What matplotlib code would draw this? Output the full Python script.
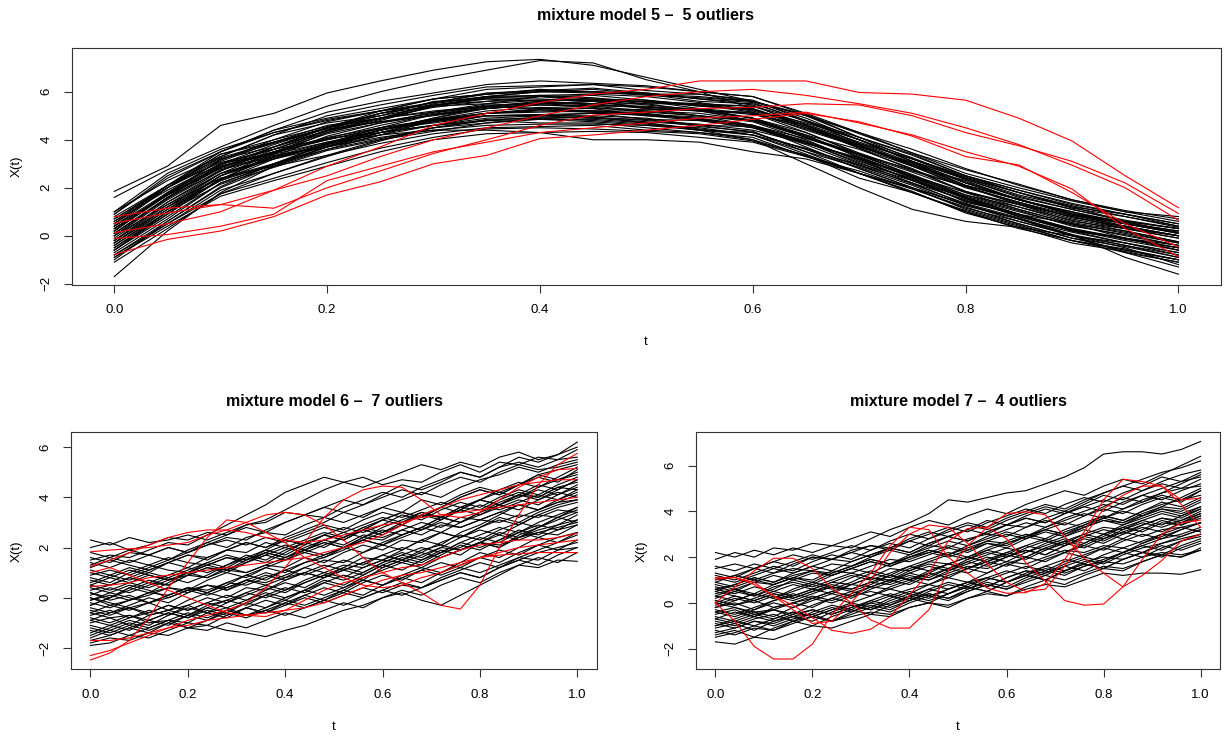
import matplotlib
matplotlib.use("Agg")
import matplotlib.pyplot as plt

plt.rcParams['font.family'] = ['Liberation Sans', 'DejaVu Sans']

W, H = 1230, 736

################################################
# Data
################################################

# mixture model 5 (grid 0.05)
t_top = [0.00, 0.05, 0.10, 0.15, 0.20, 0.25, 0.30, 0.35, 0.40, 0.45, 0.50,
         0.55, 0.60, 0.65, 0.70, 0.75, 0.80, 0.85, 0.90, 0.95, 1.00]

top_black = [
    [1.85, 2.9, 4.6, 5.1, 5.95, 6.45, 6.9, 7.25, 7.35, 7.1, 6.6, 6.1, 5.6, 4.9, 4.0, 3.1, 2.2, 1.5, 0.9, 0.4, 0.0],
    [1.6, 2.75, 3.7, 4.6, 5.4, 6.0, 6.5, 6.9, 7.3, 7.2, 6.5, 6.0, 5.3, 4.6, 3.8, 3.0, 2.1, 1.5, 0.9, 0.5, 0.1],
    [-1.7, 0.2, 1.8, 2.9, 3.6, 4.2, 4.6, 4.9, 5.0, 5.0, 4.9, 4.6, 4.3, 3.6, 2.8, 2.0, 1.1, 0.5, -0.1, -0.6, -1.0],
    [0.9, 2.4, 3.5, 4.3, 4.8, 5.2, 5.7, 5.9, 6.1, 6.0, 5.95, 5.7, 5.55, 4.75, 4.0, 3.1, 2.35, 1.6, 1.1, 0.6, 0.3],
    [-0.9, 0.5, 1.9, 2.6, 3.3, 3.95, 4.5, 4.7, 4.9, 4.8, 4.65, 4.4, 4.3, 3.6, 2.95, 2.3, 1.45, 0.9, 0.2, -0.1, -0.6],
    [0.3, 1.75, 2.85, 3.7, 4.4, 4.75, 5.1, 5.45, 5.5, 5.6, 5.35, 5.3, 4.9, 4.3, 3.45, 2.7, 2.05, 1.3, 0.8, 0.3, -0.1],
    [-0.4, 1.1, 2.5, 3.2, 3.85, 4.5, 5.05, 5.3, 5.5, 5.4, 5.4, 5.2, 5.15, 4.4, 3.7, 3.05, 2.1, 1.55, 0.85, 0.5, 0.15],
    [0.6, 1.9, 3.0, 3.45, 4.0, 4.45, 4.7, 5.0, 5.0, 4.9, 4.85, 4.55, 4.35, 3.5, 2.85, 2.1, 1.25, 0.7, 0.0, -0.3, -0.8],
    [-0.2, 1.4, 2.7, 3.7, 4.5, 5.0, 5.4, 5.8, 6.0, 5.95, 5.9, 5.8, 5.6, 5.0, 4.3, 3.45, 2.6, 2.0, 1.45, 1.0, 0.6],
    [0.0, 1.3, 2.4, 2.9, 3.35, 3.85, 4.25, 4.5, 4.55, 4.6, 4.4, 4.3, 4.0, 3.35, 2.4, 1.8, 1.0, 0.3, -0.2, -0.7, -1.1],
    [1.0, 2.6, 3.6, 4.3, 4.85, 5.2, 5.45, 5.75, 5.85, 5.75, 5.55, 5.45, 5.15, 4.5, 3.65, 2.75, 1.85, 1.2, 0.65, 0.2, -0.25],
    [-0.7, 0.7, 2.2, 2.95, 3.7, 4.3, 4.85, 5.1, 5.25, 5.2, 5.05, 4.95, 4.85, 4.15, 3.4, 2.75, 2.05, 1.4, 0.75, 0.4, 0.0],
    [0.4, 2.0, 3.3, 4.2, 5.0, 5.45, 5.85, 6.2, 6.25, 6.3, 6.05, 5.9, 5.65, 4.8, 3.85, 3.05, 2.25, 1.5, 1.0, 0.55, 0.2],
    [-1.1, 0.3, 1.75, 2.6, 3.35, 4.0, 4.5, 4.8, 4.95, 4.9, 4.75, 4.6, 4.55, 3.85, 3.25, 2.5, 1.7, 1.2, 0.55, 0.2, -0.25],
    [0.1, 1.6, 2.95, 3.7, 4.35, 4.9, 5.35, 5.6, 5.65, 5.65, 5.45, 5.25, 4.9, 4.2, 3.25, 2.4, 1.55, 0.8, 0.2, -0.3, -0.7],
    [-0.5, 1.0, 2.35, 3.3, 4.15, 4.7, 5.15, 5.5, 5.65, 5.65, 5.6, 5.4, 5.25, 4.7, 4.0, 3.25, 2.4, 1.8, 1.25, 0.8, 0.35],
    [0.7, 2.1, 3.25, 3.9, 4.45, 4.75, 5.0, 5.3, 5.45, 5.35, 5.15, 5.0, 4.75, 4.0, 3.1, 2.35, 1.55, 0.9, 0.25, -0.1, -0.5],
    [-0.3, 1.1, 2.3, 3.0, 3.6, 4.05, 4.5, 4.85, 4.9, 4.95, 4.8, 4.65, 4.4, 3.85, 3.2, 2.45, 1.6, 1.0, 0.45, 0.0, -0.4],
    [0.2, 1.8, 3.15, 4.0, 4.75, 5.2, 5.55, 5.9, 6.05, 6.0, 5.85, 5.75, 5.6, 5.05, 4.25, 3.45, 2.75, 2.15, 1.5, 1.05, 0.7],
    [-0.8, 0.5, 1.75, 2.4, 3.05, 3.65, 4.1, 4.45, 4.5, 4.45, 4.35, 4.25, 3.95, 3.35, 2.6, 1.95, 1.2, 0.5, -0.1, -0.45, -0.9],
    [0.5, 2.0, 3.2, 3.85, 4.5, 4.9, 5.15, 5.35, 5.55, 5.5, 5.3, 5.2, 5.1, 4.45, 3.75, 2.95, 2.1, 1.5, 0.95, 0.5, 0.1],
    [-0.6, 0.9, 2.35, 3.4, 4.3, 4.85, 5.4, 5.75, 5.8, 5.85, 5.65, 5.45, 5.4, 4.65, 3.9, 3.2, 2.35, 1.65, 1.1, 0.65, 0.3],
    [0.8, 2.1, 3.05, 3.6, 4.05, 4.3, 4.6, 4.8, 4.85, 4.85, 4.7, 4.45, 4.2, 3.5, 2.6, 1.8, 1.05, 0.45, -0.2, -0.55, -1.0],
    [-0.2, 1.3, 2.6, 3.25, 3.85, 4.4, 4.85, 5.1, 5.15, 5.2, 5.1, 4.85, 4.55, 3.9, 3.05, 2.2, 1.3, 0.7, 0.15, -0.3, -0.7],
    [0.2, 1.7, 2.85, 3.5, 4.1, 4.5, 4.85, 5.2, 5.35, 5.3, 5.25, 5.25, 5.05, 4.6, 3.85, 3.2, 2.45, 1.8, 1.15, 0.8, 0.4],
    [-1.0, 0.6, 2.05, 3.0, 3.85, 4.4, 4.75, 5.1, 5.25, 5.15, 5.05, 4.85, 4.6, 3.95, 3.15, 2.3, 1.45, 0.85, 0.3, -0.15, -0.5],
    [0.5, 2.1, 3.5, 4.4, 5.15, 5.6, 5.95, 6.3, 6.45, 6.35, 6.25, 6.0, 5.8, 5.05, 4.1, 3.35, 2.5, 1.9, 1.35, 0.9, 0.5],
    [0.0, 1.5, 2.75, 3.3, 3.75, 4.3, 4.75, 5.0, 5.05, 5.1, 5.05, 4.85, 4.6, 4.05, 3.4, 2.65, 1.85, 1.3, 0.7, 0.3, -0.1],
    [-0.4, 1.0, 2.15, 2.85, 3.55, 4.0, 4.35, 4.7, 4.85, 4.75, 4.6, 4.5, 4.2, 3.4, 2.6, 1.85, 0.95, 0.35, -0.3, -0.65, -1.1],
    [0.6, 2.1, 3.4, 4.0, 4.55, 5.1, 5.55, 5.8, 5.85, 5.9, 5.8, 5.55, 5.25, 4.6, 3.75, 2.9, 2.0, 1.4, 0.85, 0.4, 0.0],
    [-0.1, 1.4, 2.6, 3.5, 4.25, 4.7, 5.05, 5.4, 5.55, 5.45, 5.35, 5.2, 4.9, 4.1, 3.3, 2.45, 1.65, 1.05, 0.4, 0.05, -0.4],
    [0.3, 1.7, 2.8, 3.35, 3.7, 4.1, 4.4, 4.6, 4.65, 4.65, 4.6, 4.4, 4.2, 3.65, 2.9, 2.2, 1.5, 0.8, 0.25, -0.2, -0.6],
    [-0.6, 1.0, 2.5, 3.45, 4.4, 5.1, 5.55, 5.95, 6.05, 6.15, 5.95, 5.7, 5.45, 4.55, 3.65, 2.9, 2.05, 1.35, 0.8, 0.35, 0.0],
    [0.1, 1.55, 2.85, 3.45, 4.05, 4.6, 5.05, 5.3, 5.45, 5.4, 5.2, 5.1, 4.8, 4.1, 3.35, 2.55, 1.7, 1.1, 0.5, 0.15, -0.3],
    [-0.9, 0.4, 1.65, 2.3, 2.9, 3.5, 4.0, 4.25, 4.3, 4.35, 4.3, 4.1, 3.9, 3.3, 2.7, 1.95, 1.15, 0.6, 0.05, -0.4, -0.8],
    [0.4, 1.8, 2.9, 3.5, 4.0, 4.5, 4.8, 5.0, 5.05, 4.95, 4.7, 4.4, 4.0, 3.0, 2.0, 1.1, 0.6, 0.35, 0.0, -0.7, -1.3],
    [-0.3, 1.2, 2.5, 3.3, 3.9, 4.4, 4.8, 5.1, 5.2, 5.15, 5.0, 4.8, 4.5, 3.8, 2.95, 2.15, 1.35, 0.75, 0.05, -0.9, -1.6],
    [0.4, 1.7, 3.2, 3.7, 4.5, 4.9, 5.45, 5.6, 5.8, 5.7, 5.65, 5.4, 5.3, 4.5, 3.8, 2.9, 2.3, 1.5, 1.0, 0.5, 0.2],
    [-0.3, 1.2, 2.3, 3.2, 3.7, 4.3, 4.6, 5.0, 5.0, 5.1, 4.85, 4.8, 4.5, 3.9, 3.0, 2.4, 1.4, 0.9, 0.2, -0.1, -0.6],
    [0.7, 2.0, 3.4, 3.9, 4.6, 4.9, 5.2, 5.4, 5.3, 5.3, 5.0, 4.9, 4.6, 3.9, 3.2, 2.3, 1.6, 0.9, 0.5, -0.1, -0.4],
    [-0.6, 0.8, 2.2, 3.0, 3.8, 4.4, 4.9, 5.3, 5.5, 5.6, 5.6, 5.5, 5.4, 4.8, 4.0, 3.1, 2.4, 1.7, 1.2, 0.6, 0.3],
    [0.0, 1.6, 2.7, 3.6, 4.3, 4.8, 5.4, 5.5, 5.8, 5.6, 5.6, 5.3, 5.1, 4.3, 3.4, 2.5, 1.6, 0.9, 0.3, -0.1, -0.5],
    [0.9, 2.5, 3.5, 4.4, 4.9, 5.3, 5.7, 5.9, 6.0, 6.0, 5.9, 5.6, 5.5, 4.8, 4.1, 3.2, 2.5, 1.8, 1.2, 0.9, 0.4],
    [-0.2, 1.2, 2.6, 3.2, 3.8, 4.3, 4.6, 4.8, 4.7, 4.7, 4.5, 4.3, 4.1, 3.3, 2.6, 1.8, 1.0, 0.4, -0.2, -0.6, -1.0],
    [0.2, 1.8, 3.0, 3.8, 4.5, 5.2, 5.7, 6.1, 6.2, 6.3, 6.2, 6.0, 5.8, 5.1, 4.3, 3.6, 2.8, 2.1, 1.5, 1.0, 0.8],
    [-0.5, 0.9, 2.4, 3.0, 3.7, 4.2, 4.8, 5.1, 5.3, 5.2, 5.2, 5.0, 4.8, 4.1, 3.4, 2.5, 1.8, 1.1, 0.5, 0.1, -0.3],
    [0.5, 2.0, 3.1, 3.9, 4.5, 5.1, 5.4, 5.7, 5.7, 5.6, 5.3, 5.0, 4.6, 3.7, 2.8, 2.0, 1.3, 0.6, 0.0, -0.4, -0.9],
    [-0.8, 0.6, 2.0, 2.9, 3.7, 4.4, 4.9, 5.4, 5.6, 5.7, 5.5, 5.5, 5.2, 4.6, 3.7, 3.0, 2.2, 1.5, 0.9, 0.6, 0.1],
    [0.1, 1.6, 3.0, 3.6, 4.4, 4.9, 5.5, 5.8, 6.0, 6.1, 5.9, 5.9, 5.6, 5.0, 4.1, 3.4, 2.5, 1.9, 1.3, 0.9, 0.5],
    [0.3, 1.7, 2.9, 3.4, 3.9, 4.2, 4.4, 4.4, 4.3, 4.0, 4.0, 3.9, 3.5, 3.2, 2.6, 2.0, 1.3, 0.7, 0.0, -0.5, -1.2],
    [1.0, 2.3, 3.3, 4.2, 4.7, 5.0, 5.6, 5.7, 5.6, 5.5, 5.5, 5.2, 4.8, 4.2, 3.6, 2.8, 1.8, 1.3, 0.6, 0.3, 0.0],
]

top_red = [
    [0.13, 0.5, 1.0, 1.9, 2.9, 3.7, 4.6, 5.1, 5.55, 5.9, 6.1, 6.45, 6.45, 6.45, 5.97, 5.9, 5.65, 4.9, 3.95, 2.5, 1.17],
    [0.52, 0.95, 1.3, 1.9, 2.5, 3.3, 4.0, 4.5, 5.0, 5.45, 5.8, 6.0, 6.1, 5.85, 5.5, 5.1, 4.5, 3.8, 2.94, 2.0, 0.65],
    [0.79, 1.15, 1.3, 1.15, 2.0, 2.7, 3.43, 4.0, 4.6, 5.03, 5.15, 5.3, 5.35, 5.5, 5.45, 5.0, 4.3, 3.75, 3.1, 2.2, 0.93],
    [-0.78, -0.15, 0.2, 0.8, 1.7, 2.25, 3.0, 3.35, 4.05, 4.2, 4.4, 4.6, 4.85, 5.1, 4.75, 4.15, 3.3, 2.95, 1.8, 0.5, -0.46],
    [-0.11, 0.05, 0.4, 0.9, 2.3, 2.9, 3.5, 3.9, 4.3, 4.5, 4.7, 4.9, 5.0, 5.15, 4.7, 4.2, 3.5, 2.9, 1.95, 0.3, -0.87],
]

# mixture models 6 and 7 (grid 0.04)
t_bot = [0.00, 0.04, 0.08, 0.12, 0.16, 0.20, 0.24, 0.28, 0.32, 0.36, 0.40, 0.44, 0.48,
         0.52, 0.56, 0.60, 0.64, 0.68, 0.72, 0.76, 0.80, 0.84, 0.88, 0.92, 0.96, 1.00]

m6_black = [
    [2.3, 2.1, 2.4, 2.2, 2.3, 2.5, 2.3, 2.6, 2.9, 3.0, 3.4, 3.3, 3.6, 3.9, 3.7, 4.1, 4.5, 4.3, 4.6, 5.0, 4.8, 5.2, 5.6, 5.4, 5.7, 6.2],
    [2.0, 2.2, 1.9, 2.1, 2.4, 2.3, 2.6, 2.5, 2.9, 3.1, 3.5, 3.9, 4.3, 4.6, 4.8, 4.5, 4.7, 4.6, 5.0, 5.3, 5.0, 5.4, 5.3, 5.6, 5.5, 5.9],
    [1.6, 1.4, 1.8, 1.7, 1.5, 1.9, 2.2, 2.0, 2.4, 2.6, 2.5, 2.9, 3.2, 3.0, 3.3, 3.6, 3.4, 3.9, 3.7, 4.1, 4.4, 4.2, 4.5, 4.8, 4.6, 5.1],
    [1.2, 1.5, 1.3, 1.1, 1.4, 1.7, 1.6, 1.9, 1.8, 2.2, 2.0, 2.3, 2.6, 2.4, 2.8, 3.1, 2.9, 3.3, 3.2, 3.5, 3.9, 3.7, 4.1, 4.0, 4.4, 4.6],
    [0.8, 0.6, 1.0, 1.3, 1.1, 1.0, 1.4, 1.7, 1.5, 1.9, 2.3, 2.1, 2.5, 2.8, 2.6, 2.9, 3.3, 3.1, 3.5, 3.8, 3.6, 4.0, 4.3, 4.1, 4.5, 4.8],
    [0.5, 0.8, 0.6, 0.4, 0.7, 0.9, 0.8, 1.1, 1.0, 1.3, 1.2, 1.6, 1.4, 1.8, 2.1, 1.9, 2.3, 2.2, 2.6, 2.4, 2.8, 3.1, 2.9, 3.3, 3.2, 3.6],
    [0.2, 0.0, 0.4, 0.7, 0.5, 0.9, 1.2, 1.0, 1.4, 1.7, 1.5, 1.9, 2.2, 2.0, 2.4, 2.7, 2.5, 2.8, 3.2, 3.0, 3.4, 3.7, 3.5, 3.9, 4.2, 4.0],
    [-0.1, 0.2, 0.0, -0.2, 0.1, 0.4, 0.3, 0.6, 0.5, 0.8, 1.1, 0.9, 1.2, 1.5, 1.3, 1.7, 2.0, 1.8, 2.2, 2.5, 2.3, 2.7, 3.0, 2.8, 3.2, 3.5],
    [-0.4, -0.6, -0.3, 0.0, -0.2, 0.2, 0.5, 0.3, 0.7, 1.0, 0.8, 1.2, 1.5, 1.4, 1.8, 2.1, 1.9, 2.3, 2.6, 2.4, 2.8, 3.2, 3.0, 3.4, 3.7, 3.9],
    [-0.7, -0.5, -0.8, -0.6, -0.3, -0.5, -0.2, 0.1, -0.1, 0.3, 0.6, 0.4, 0.8, 1.1, 0.9, 1.3, 1.6, 1.4, 1.8, 2.0, 2.4, 2.2, 2.6, 2.9, 2.7, 3.1],
    [-1.0, -0.8, -1.1, -0.7, -0.5, -0.7, -0.3, -0.1, -0.3, 0.1, 0.4, 0.2, 0.6, 0.9, 0.7, 1.2, 1.5, 1.3, 1.7, 2.1, 1.9, 2.3, 2.7, 2.5, 2.9, 3.3],
    [-1.3, -1.5, -1.2, -0.9, -1.1, -0.7, -0.4, -0.6, -0.2, 0.1, -0.1, 0.3, 0.7, 0.5, 0.9, 1.3, 1.1, 1.5, 1.9, 1.7, 2.2, 2.6, 2.4, 2.8, 3.2, 3.0],
    [-1.6, -1.3, -1.5, -1.2, -0.9, -1.0, -0.6, -0.8, -0.4, -0.1, -0.3, 0.1, 0.4, 0.2, 0.6, 0.9, 0.7, 1.1, 1.4, 1.2, 1.6, 1.9, 1.7, 2.1, 2.4, 2.6],
    [-1.9, -1.8, -1.5, -1.6, -1.3, -1.0, -1.1, -0.7, -0.4, -0.6, -0.2, 0.1, -0.1, 0.3, 0.7, 0.5, 0.9, 1.2, 1.0, 1.4, 1.8, 1.6, 2.0, 2.4, 2.2, 2.6],
    [-0.6, -0.8, -0.7, -1.0, -0.9, -1.2, -1.1, -1.3, -1.4, -1.55, -1.3, -1.1, -0.8, -0.5, -0.3, 0.0, 0.2, -0.1, -0.3, 0.1, 0.5, 0.9, 1.3, 1.2, 1.5, 1.45],
    [1.5, 1.7, 1.6, 1.9, 2.2, 2.1, 2.5, 2.9, 3.3, 3.7, 4.2, 4.5, 4.8, 4.6, 4.4, 4.7, 5.0, 5.3, 5.1, 5.4, 5.2, 5.6, 5.8, 5.5, 5.7, 6.0],
    [0.9, 1.1, 0.9, 1.2, 1.5, 1.8, 2.1, 2.4, 2.3, 2.7, 3.0, 3.3, 3.2, 3.6, 3.9, 4.2, 4.0, 4.4, 4.7, 5.0, 4.8, 5.2, 5.4, 5.2, 5.5, 5.6],
    [0.0, -0.3, -0.1, 0.2, 0.1, 0.4, 0.2, 0.6, 0.9, 0.7, 1.1, 1.4, 1.6, 1.9, 2.3, 2.6, 2.9, 2.7, 3.1, 3.5, 3.3, 3.7, 4.0, 4.3, 4.1, 4.5],
    [-0.9, -0.6, -0.4, -0.7, -0.5, -0.1, 0.2, 0.0, 0.4, 0.3, 0.7, 1.0, 0.8, 1.2, 1.6, 1.5, 1.9, 2.3, 2.1, 2.6, 2.9, 3.3, 3.7, 3.5, 3.9, 4.3],
    [0.4, 0.2, 0.5, 0.3, 0.0, 0.3, 0.5, 0.4, 0.7, 0.6, 0.9, 1.2, 1.0, 1.3, 1.2, 1.5, 1.4, 1.7, 2.0, 1.9, 2.2, 2.1, 2.4, 2.6, 2.5, 2.9],
    [-0.3, 0.0, 0.3, 0.6, 0.5, 0.9, 1.2, 1.1, 1.5, 1.8, 1.6, 2.0, 2.3, 2.1, 2.5, 2.4, 2.7, 3.0, 2.8, 3.2, 3.1, 3.4, 3.7, 3.5, 3.8, 4.1],
    [1.4, 1.2, 1.5, 1.3, 1.6, 1.4, 1.3, 1.6, 1.5, 1.8, 1.6, 1.9, 2.2, 2.0, 2.4, 2.3, 2.7, 2.5, 2.9, 2.8, 3.1, 3.0, 3.3, 3.2, 3.5, 3.4],
    [-1.5, -1.2, -0.9, -1.1, -0.7, -0.4, -0.6, -0.2, 0.1, 0.4, 0.2, 0.6, 0.9, 1.2, 1.0, 1.4, 1.7, 2.0, 1.8, 2.2, 2.5, 2.8, 2.6, 3.0, 3.3, 3.6],
    [-0.5, -0.7, -0.4, -0.6, -0.3, -0.5, -0.2, -0.4, -0.1, 0.2, 0.0, 0.3, 0.1, 0.4, 0.7, 0.5, 0.8, 1.1, 0.9, 1.2, 1.0, 1.3, 1.6, 1.5, 1.9, 2.0],
    [0.6, 0.9, 1.2, 1.0, 1.4, 1.7, 1.5, 1.9, 2.2, 2.0, 2.3, 2.6, 2.9, 2.7, 3.1, 3.4, 3.2, 3.5, 3.8, 3.6, 3.9, 4.3, 4.6, 4.4, 4.8, 5.2],
    [-1.1, -1.3, -1.0, -1.2, -0.9, -0.6, -0.8, -0.5, -0.7, -0.4, -0.1, -0.3, 0.0, 0.3, 0.1, 0.5, 0.8, 0.6, 1.0, 1.3, 1.6, 1.4, 1.8, 2.1, 1.9, 2.3],
    [1.0, 0.8, 1.1, 0.9, 0.7, 1.0, 1.3, 1.1, 1.4, 1.7, 2.0, 1.8, 2.1, 2.4, 2.7, 2.5, 2.9, 3.3, 3.1, 3.5, 3.9, 3.7, 4.1, 4.5, 4.3, 4.7],
    [-0.2, -0.4, -0.1, 0.1, 0.4, 0.3, 0.7, 1.0, 0.8, 1.2, 1.5, 1.8, 1.6, 2.0, 2.3, 2.1, 2.5, 2.8, 3.2, 3.0, 3.4, 3.8, 4.1, 3.9, 4.3, 4.7],
    [-1.8, -1.6, -1.7, -1.4, -1.5, -1.2, -1.3, -1.0, -1.2, -0.9, -0.6, -0.8, -0.5, -0.2, -0.4, 0.0, 0.3, 0.1, 0.5, 0.8, 0.6, 1.0, 1.3, 1.6, 1.4, 1.8],
    [0.3, 0.5, 0.8, 0.6, 0.9, 1.2, 1.0, 1.3, 1.7, 1.5, 1.9, 2.2, 2.0, 2.4, 2.8, 2.6, 3.0, 3.4, 3.2, 3.6, 3.5, 3.9, 4.2, 4.0, 4.4, 4.3],
    [-0.8, -1.0, -0.7, -0.9, -0.6, -0.8, -0.5, -0.7, -0.4, -0.6, -0.3, 0.0, -0.2, 0.1, 0.4, 0.2, 0.5, 0.4, 0.7, 1.0, 0.8, 1.2, 1.5, 1.3, 1.7, 2.0],
    [0.1, 0.4, 0.2, 0.5, 0.8, 0.6, 0.9, 1.3, 1.6, 1.4, 1.8, 2.2, 2.5, 2.3, 2.7, 3.1, 3.4, 3.2, 3.6, 4.0, 4.3, 4.1, 4.5, 4.9, 4.7, 5.0],
    [-1.4, -1.1, -1.3, -0.9, -0.6, -0.8, -0.4, -0.1, 0.2, 0.0, 0.3, 0.6, 0.9, 0.7, 1.0, 1.4, 1.7, 1.5, 1.8, 2.2, 2.0, 2.3, 2.6, 2.4, 2.7, 2.9],
    [1.1, 0.9, 0.7, 1.0, 0.8, 1.1, 1.4, 1.2, 1.0, 1.3, 1.6, 1.9, 1.7, 2.0, 2.3, 2.1, 2.4, 2.7, 3.0, 2.8, 3.1, 3.4, 3.2, 3.5, 3.8, 3.9],
    [-0.6, -0.3, -0.5, -0.2, 0.1, 0.4, 0.2, 0.5, 0.9, 1.2, 1.0, 1.4, 1.7, 2.0, 1.8, 2.2, 2.5, 2.8, 2.6, 3.0, 3.3, 3.6, 3.9, 3.7, 4.1, 4.4],
    [0.7, 0.5, 0.8, 1.1, 1.4, 1.2, 1.6, 1.9, 2.2, 2.0, 2.4, 2.7, 3.0, 3.4, 3.2, 3.6, 3.9, 4.2, 4.0, 4.4, 4.7, 4.9, 5.2, 5.0, 5.3, 5.5],
    [-1.2, -1.4, -1.1, -1.3, -1.0, -1.2, -0.9, -0.6, -0.8, -0.5, -0.7, -0.4, -0.1, -0.3, 0.0, 0.3, 0.1, 0.4, 0.7, 1.0, 0.8, 1.2, 1.5, 1.8, 2.0, 2.2],
    [0.2, -0.1, 0.1, -0.2, 0.0, 0.3, 0.1, 0.4, 0.7, 0.5, 0.8, 1.0, 0.8, 1.1, 1.4, 1.2, 1.5, 1.8, 1.6, 1.9, 2.2, 2.0, 2.4, 2.7, 2.9, 3.1],
    [-0.3, 0.0, 0.4, 0.2, 0.6, 1.0, 0.8, 1.2, 1.6, 1.9, 1.7, 2.1, 2.5, 2.3, 2.7, 3.1, 3.4, 3.2, 3.6, 4.0, 4.3, 4.1, 4.5, 4.9, 5.1, 5.3],
    [-1.7, -1.5, -1.2, -1.4, -1.0, -0.7, -0.9, -0.5, -0.2, -0.4, 0.0, 0.3, 0.6, 0.4, 0.8, 1.1, 1.4, 1.2, 1.6, 1.9, 2.2, 2.0, 2.5, 2.8, 3.1, 3.4],
    [1.8, 1.6, 1.9, 1.7, 2.0, 1.8, 2.1, 2.3, 2.1, 2.4, 2.2, 2.5, 2.8, 2.6, 2.9, 3.2, 3.0, 3.3, 3.6, 3.4, 3.7, 3.5, 3.8, 4.1, 3.9, 4.2],
    [0.0, -0.2, -0.4, -0.2, -0.5, -0.3, -0.6, -0.4, -0.7, -0.5, -0.2, -0.4, -0.1, 0.2, 0.0, 0.3, 0.6, 0.4, 0.8, 1.1, 1.4, 1.2, 1.6, 1.9, 2.2, 2.5],
    [-0.9, -1.1, -0.8, -0.5, -0.7, -0.3, 0.0, -0.2, 0.2, 0.5, 0.3, 0.7, 1.0, 0.8, 1.2, 1.5, 1.8, 1.6, 2.0, 2.4, 2.7, 2.5, 2.9, 3.3, 3.6, 3.8],
    [0.5, 0.3, 0.6, 0.9, 0.7, 1.0, 1.3, 1.6, 1.4, 1.8, 2.1, 1.9, 2.3, 2.6, 2.4, 2.8, 3.1, 3.4, 3.2, 3.6, 3.9, 4.2, 4.0, 4.4, 4.7, 4.9],
    [-0.1, 0.1, -0.1, 0.2, 0.4, 0.2, 0.5, 0.3, 0.6, 0.9, 0.7, 1.0, 1.3, 1.1, 1.4, 1.7, 1.5, 1.9, 2.1, 1.9, 2.2, 2.5, 2.3, 2.6, 2.8, 3.0],
    [1.3, 1.6, 1.4, 1.7, 2.0, 1.8, 2.2, 2.5, 2.8, 2.6, 3.0, 3.3, 3.6, 3.4, 3.7, 4.0, 4.3, 4.1, 4.5, 4.8, 4.6, 5.0, 5.3, 5.1, 5.2, 5.4],
]

m6_red = [
    [1.83, 1.9, 1.95, 2.0, 2.1, 2.2, 2.5, 2.7, 3.0, 3.3, 3.4, 3.3, 2.9, 2.3, 1.6, 1.0, 0.6, 0.2, -0.3, -0.45, 0.5, 2.0, 3.3, 4.5, 5.3, 5.75],
    [-2.48, -2.2, -1.7, -0.8, 0.4, 1.4, 2.4, 3.1, 3.0, 2.6, 2.2, 1.6, 1.2, 0.8, 0.5, 0.4, 0.5, 0.8, 1.0, 1.3, 1.6, 1.7, 1.75, 1.8, 1.8, 1.8],
    [-2.3, -2.1, -1.8, -1.5, -1.2, -0.9, -0.7, -0.5, -0.2, 0.4, 1.2, 2.2, 3.2, 3.9, 4.3, 4.45, 4.4, 3.9, 3.3, 3.2, 3.4, 3.9, 4.4, 4.8, 5.1, 5.15],
    [1.0, 1.2, 0.9, 0.6, 0.3, 0.0, -0.3, -0.6, -0.7, -0.75, -0.5, -0.1, 0.3, 0.6, 0.8, 1.0, 1.2, 1.3, 1.6, 1.9, 2.1, 2.2, 2.3, 2.3, 2.4, 2.57],
    [0.45, 0.5, 0.6, 0.8, 0.9, 1.0, 1.1, 1.2, 1.3, 1.4, 1.5, 1.6, 1.8, 2.0, 2.2, 2.5, 2.9, 3.3, 3.6, 3.9, 4.1, 4.3, 4.5, 4.6, 4.7, 4.7],
    [-1.7, -1.7, -1.6, -1.4, -1.2, -1.1, -0.9, -0.8, -0.7, -0.6, -0.5, -0.4, -0.2, 0.1, 0.4, 0.7, 0.9, 1.0, 1.2, 1.4, 1.6, 1.8, 2.0, 2.1, 2.2, 2.3],
    [1.25, 1.5, 1.8, 2.1, 2.4, 2.6, 2.7, 2.7, 2.6, 2.4, 2.3, 2.2, 2.3, 2.5, 2.7, 2.9, 3.0, 3.2, 3.3, 3.4, 3.5, 3.6, 3.7, 3.8, 3.9, 4.0],
]

m7_black = [
    [2.2, 2.0, 2.3, 2.1, 2.4, 2.2, 2.5, 2.4, 2.8, 3.2, 3.5, 3.9, 4.5, 4.4, 4.6, 4.8, 4.9, 5.2, 5.5, 5.9, 6.5, 6.6, 6.6, 6.5, 6.7, 7.05],
    [1.9, 2.2, 2.0, 2.4, 2.3, 2.6, 2.5, 2.8, 3.1, 2.9, 3.3, 3.6, 3.4, 3.8, 4.1, 3.9, 4.3, 4.6, 4.9, 4.7, 5.1, 5.4, 5.2, 5.6, 6.0, 6.4],
    [1.3, 1.1, 1.5, 1.8, 1.6, 2.0, 1.9, 2.3, 2.5, 2.4, 2.8, 3.1, 2.9, 3.2, 3.6, 3.4, 3.8, 4.1, 3.9, 4.3, 4.7, 4.5, 4.9, 5.2, 5.0, 5.4],
    [1.0, 1.2, 1.0, 1.3, 1.5, 1.4, 1.7, 1.6, 2.0, 2.3, 2.1, 2.5, 2.4, 2.8, 3.0, 2.9, 3.3, 3.6, 3.4, 3.8, 4.1, 3.9, 4.3, 4.6, 4.4, 4.9],
    [0.7, 0.5, 0.9, 0.8, 1.1, 1.0, 1.4, 1.3, 1.6, 1.9, 1.8, 2.1, 2.4, 2.2, 2.6, 2.5, 2.9, 3.2, 3.0, 3.4, 3.7, 3.5, 3.9, 4.2, 4.1, 4.5],
    [0.4, 0.6, 0.3, 0.7, 0.9, 0.7, 1.0, 1.3, 1.1, 1.5, 1.4, 1.8, 1.7, 2.0, 2.3, 2.1, 2.5, 2.8, 2.6, 3.0, 3.3, 3.2, 3.6, 3.9, 3.7, 4.1],
    [0.1, -0.1, 0.2, 0.5, 0.3, 0.6, 0.9, 0.8, 1.1, 1.0, 1.4, 1.7, 1.5, 1.9, 2.2, 2.0, 2.4, 2.7, 2.5, 2.9, 3.2, 3.0, 3.4, 3.7, 3.5, 3.9],
    [-0.2, 0.0, -0.3, 0.1, 0.4, 0.2, 0.5, 0.8, 0.7, 1.0, 1.3, 1.1, 1.5, 1.8, 1.6, 2.0, 2.3, 2.1, 2.5, 2.8, 2.6, 3.0, 3.3, 3.1, 3.5, 3.8],
    [-0.5, -0.3, -0.6, -0.2, 0.0, -0.2, 0.2, 0.5, 0.3, 0.7, 1.0, 0.8, 1.2, 1.5, 1.3, 1.7, 2.0, 1.8, 2.2, 2.5, 2.3, 2.7, 3.0, 2.8, 3.2, 3.5],
    [-0.8, -1.0, -0.7, -0.5, -0.8, -0.4, -0.1, -0.3, 0.1, 0.4, 0.2, 0.6, 0.9, 0.7, 1.1, 1.4, 1.2, 1.6, 1.9, 1.7, 2.1, 2.4, 2.2, 2.6, 2.9, 3.2],
    [-1.1, -0.9, -1.2, -0.8, -0.6, -0.8, -0.4, -0.1, -0.3, 0.1, 0.4, 0.2, 0.6, 0.9, 0.7, 1.1, 1.4, 1.3, 1.7, 2.0, 1.8, 2.2, 2.5, 2.3, 2.7, 3.0],
    [-1.4, -1.2, -1.5, -1.1, -0.8, -1.0, -0.6, -0.3, -0.5, -0.1, 0.2, 0.0, 0.4, 0.7, 0.5, 0.9, 1.2, 1.0, 1.4, 1.7, 1.5, 1.9, 2.2, 2.1, 2.5, 2.8],
    [-1.7, -1.8, -1.5, -1.6, -1.3, -1.0, -1.1, -0.8, -0.5, -0.6, -0.2, 0.0, -0.2, 0.2, 0.5, 0.3, 0.7, 1.0, 0.8, 1.2, 1.5, 1.4, 1.8, 2.1, 2.0, 2.3],
    [0.0, -0.2, -0.4, -0.3, -0.6, -0.5, -0.8, -0.6, -0.4, -0.5, -0.2, 0.0, -0.1, 0.2, 0.4, 0.3, 0.6, 0.8, 0.7, 1.0, 1.3, 1.2, 1.3, 1.3, 1.25, 1.45],
    [0.9, 1.2, 1.5, 1.3, 1.7, 2.0, 1.9, 2.2, 2.5, 2.3, 2.7, 3.0, 3.3, 3.1, 3.5, 3.8, 4.1, 3.9, 4.3, 4.6, 4.4, 4.8, 5.1, 5.5, 5.3, 5.7],
    [-0.3, -0.5, -0.2, 0.1, 0.3, 0.6, 0.4, 0.8, 1.1, 0.9, 1.3, 1.6, 1.4, 1.8, 2.1, 2.4, 2.2, 2.6, 2.9, 3.2, 3.0, 3.4, 3.7, 4.0, 3.8, 4.2],
    [0.5, 0.3, 0.1, 0.4, 0.2, 0.5, 0.7, 0.6, 0.9, 0.8, 1.1, 1.0, 1.3, 1.6, 1.5, 1.8, 1.7, 2.0, 2.3, 2.2, 2.5, 2.4, 2.7, 3.0, 2.9, 3.2],
    [-1.0, -0.7, -0.4, -0.6, -0.2, 0.1, 0.4, 0.2, 0.6, 0.9, 1.2, 1.0, 1.4, 1.7, 2.0, 1.8, 2.2, 2.5, 2.8, 2.6, 3.0, 3.3, 3.6, 3.4, 3.8, 4.1],
    [0.2, 0.5, 0.3, 0.6, 1.0, 0.8, 1.2, 1.5, 1.3, 1.7, 2.0, 2.3, 2.1, 2.5, 2.8, 3.1, 2.9, 3.3, 3.6, 3.9, 3.7, 4.1, 4.4, 4.7, 4.5, 4.9],
    [-0.6, -0.8, -0.5, -0.7, -0.4, -0.6, -0.3, -0.1, -0.3, 0.0, 0.3, 0.1, 0.4, 0.7, 0.5, 0.9, 1.2, 1.0, 1.4, 1.7, 1.5, 1.9, 2.2, 2.0, 2.4, 2.7],
    [1.6, 1.4, 1.7, 1.5, 1.8, 2.1, 1.9, 2.2, 2.0, 2.4, 2.7, 2.5, 2.9, 3.2, 3.0, 3.4, 3.7, 3.5, 3.9, 4.2, 4.0, 4.4, 4.7, 4.5, 4.9, 5.2],
    [-0.1, 0.2, 0.0, 0.3, 0.1, 0.4, 0.7, 0.5, 0.8, 1.2, 1.0, 1.3, 1.7, 1.5, 1.9, 2.2, 2.0, 2.4, 2.7, 2.5, 2.9, 3.3, 3.1, 3.5, 3.4, 3.7],
    [-1.3, -1.1, -0.8, -1.0, -0.7, -0.5, -0.2, -0.4, 0.0, 0.3, 0.1, 0.5, 0.8, 0.6, 1.0, 1.3, 1.6, 1.4, 1.8, 2.1, 2.4, 2.2, 2.6, 2.9, 3.2, 3.5],
    [0.6, 0.8, 1.1, 0.9, 1.2, 1.4, 1.3, 1.6, 1.9, 1.7, 2.0, 2.3, 2.1, 2.4, 2.7, 2.6, 2.9, 3.2, 3.0, 3.3, 3.6, 3.5, 3.8, 4.1, 3.9, 4.2],
    [-0.4, -0.2, -0.5, -0.3, 0.0, 0.3, 0.1, 0.4, 0.7, 0.6, 0.9, 1.3, 1.1, 1.5, 1.8, 1.6, 2.0, 2.4, 2.2, 2.6, 3.0, 2.8, 3.2, 3.6, 3.4, 3.8],
    [1.1, 0.9, 1.2, 1.5, 1.3, 1.6, 1.9, 1.8, 2.1, 2.4, 2.2, 2.6, 2.9, 2.7, 3.1, 3.4, 3.3, 3.7, 4.0, 3.8, 4.2, 4.6, 4.4, 4.8, 5.2, 5.6],
    [-0.9, -1.1, -0.8, -0.9, -0.6, -0.3, -0.5, -0.2, 0.1, -0.1, 0.3, 0.6, 0.4, 0.8, 1.1, 0.9, 1.3, 1.6, 1.4, 1.8, 2.0, 1.9, 2.2, 2.5, 2.3, 2.6],
    [0.3, 0.1, 0.4, 0.2, 0.5, 0.8, 0.6, 0.9, 1.3, 1.1, 1.5, 1.8, 2.1, 1.9, 2.3, 2.6, 2.9, 2.7, 3.1, 3.4, 3.8, 3.6, 4.0, 4.4, 4.2, 4.6],
    [-0.7, -0.4, -0.6, -0.3, -0.5, -0.1, 0.2, 0.0, 0.3, 0.6, 0.4, 0.8, 1.1, 0.9, 1.3, 1.7, 1.5, 1.9, 2.2, 2.0, 2.4, 2.8, 2.6, 3.0, 3.3, 3.1],
    [0.8, 0.6, 0.9, 1.2, 1.0, 1.3, 1.2, 1.5, 1.8, 1.6, 2.0, 2.2, 2.5, 2.3, 2.7, 3.0, 2.8, 3.2, 3.5, 3.3, 3.7, 4.0, 3.8, 4.2, 4.6, 5.0],
    [-0.4, -0.6, -0.3, 0.0, -0.2, 0.2, 0.5, 0.3, 0.7, 1.0, 0.8, 1.2, 1.5, 1.3, 1.7, 2.0, 2.3, 2.1, 2.5, 2.9, 2.7, 3.1, 3.4, 3.7, 3.6, 4.0],
    [0.9, 0.7, 1.0, 0.8, 1.1, 1.4, 1.2, 1.5, 1.8, 1.6, 1.9, 2.2, 2.0, 2.3, 2.6, 2.4, 2.8, 3.1, 2.9, 3.3, 3.6, 3.4, 3.8, 4.1, 4.0, 4.4],
    [-1.2, -1.4, -1.1, -1.2, -0.9, -0.6, -0.8, -0.5, -0.2, -0.4, 0.0, 0.3, 0.1, 0.5, 0.8, 0.6, 1.0, 1.3, 1.6, 1.4, 1.8, 2.2, 2.5, 2.8, 3.0, 3.3],
    [0.3, 0.6, 0.4, 0.8, 1.1, 0.9, 1.3, 1.6, 1.9, 1.7, 2.1, 2.4, 2.7, 2.5, 2.9, 3.2, 3.5, 3.3, 3.7, 4.0, 4.3, 4.1, 4.5, 4.8, 5.0, 5.1],
    [-0.7, -0.9, -0.6, -0.8, -0.5, -0.3, -0.5, -0.2, 0.0, -0.2, 0.1, 0.4, 0.2, 0.5, 0.8, 0.6, 0.9, 1.2, 1.0, 1.3, 1.6, 1.5, 1.8, 2.1, 2.0, 2.4],
    [1.5, 1.7, 1.5, 1.8, 2.1, 1.9, 2.2, 2.5, 2.3, 2.7, 3.0, 2.8, 3.2, 3.5, 3.3, 3.7, 4.0, 4.3, 4.1, 4.5, 4.8, 5.1, 4.9, 5.3, 5.6, 5.8],
    [0.0, 0.3, 0.1, 0.4, 0.2, 0.5, 0.8, 0.6, 0.9, 1.2, 1.0, 1.4, 1.7, 1.5, 1.8, 2.1, 1.9, 2.3, 2.6, 2.4, 2.8, 3.1, 2.9, 3.2, 3.3, 3.5],
    [-1.5, -1.3, -1.0, -1.2, -0.8, -0.6, -0.8, -0.4, -0.1, -0.3, 0.1, 0.4, 0.2, 0.6, 0.9, 0.7, 1.1, 1.4, 1.2, 1.6, 1.9, 2.2, 2.0, 2.4, 2.7, 2.9],
    [0.6, 0.4, 0.7, 0.5, 0.8, 0.6, 0.9, 1.2, 1.0, 1.3, 1.6, 1.4, 1.7, 2.0, 1.8, 2.2, 2.5, 2.3, 2.7, 3.0, 2.8, 3.2, 3.5, 3.3, 3.6, 3.9],
    [-0.2, 0.1, 0.4, 0.2, 0.6, 0.9, 0.7, 1.1, 1.4, 1.2, 1.6, 1.9, 2.2, 2.0, 2.4, 2.7, 3.0, 2.8, 3.2, 3.5, 3.8, 3.6, 4.0, 4.3, 4.5, 4.7],
    [1.2, 1.0, 1.3, 1.6, 1.4, 1.8, 2.1, 1.9, 2.3, 2.6, 2.4, 2.8, 3.1, 3.4, 3.2, 3.6, 3.9, 4.2, 4.0, 4.4, 4.8, 5.1, 5.4, 5.7, 5.9, 6.2],
    [-1.0, -0.8, -1.0, -0.7, -0.4, -0.6, -0.3, 0.0, -0.2, 0.2, 0.5, 0.3, 0.6, 0.9, 0.7, 1.1, 1.4, 1.2, 1.6, 1.9, 1.7, 2.1, 2.4, 2.6, 2.8, 3.0],
    [0.1, -0.1, 0.1, -0.2, 0.0, 0.2, 0.0, 0.3, 0.5, 0.3, 0.6, 0.8, 0.6, 0.9, 1.1, 0.9, 1.2, 1.5, 1.3, 1.6, 1.8, 1.7, 2.0, 2.2, 2.1, 2.3],
    [0.5, 0.8, 1.1, 0.9, 1.3, 1.6, 1.4, 1.8, 2.1, 2.4, 2.2, 2.6, 2.9, 2.7, 3.1, 3.4, 3.7, 3.5, 3.9, 4.2, 4.5, 4.3, 4.7, 5.0, 5.3, 5.5],
]

m7_red = [
    [0.0, -0.8, -1.9, -2.45, -2.45, -1.8, -0.5, 0.4, 1.3, 2.5, 3.3, 3.2, 2.0, 1.3, 0.65, 0.42, 0.45, 0.85, 1.9, 3.1, 4.5, 5.4, 5.3, 5.1, 4.5, 4.57],
    [1.03, 1.12, 0.8, 0.3, -0.1, -0.65, -1.2, -1.33, -1.15, -0.6, 0.35, 1.3, 2.7, 3.25, 3.3, 2.8, 1.75, 0.95, 0.1, -0.1, -0.05, 0.7, 1.9, 3.0, 3.5, 3.62],
    [0.0, 0.7, 1.4, 1.95, 1.95, 1.5, 0.65, 0.0, -0.74, -1.1, -1.1, -0.3, 1.4, 2.5, 3.3, 3.9, 3.98, 3.85, 2.9, 1.95, 1.3, 0.7, 1.2, 1.85, 2.7, 3.0],
    [1.1, 1.1, 0.9, 0.3, -0.3, -0.9, -0.8, 0.0, 1.0, 2.2, 3.0, 3.4, 3.3, 2.6, 1.7, 0.9, 0.5, 0.6, 1.6, 2.9, 4.1, 4.7, 5.1, 5.1, 4.3, 3.3],
]

titles = ["mixture model 5 \u2013  5 outliers",
          "mixture model 6 \u2013  7 outliers",
          "mixture model 7 \u2013  4 outliers"]

################################################
# Plot
################################################

fig = plt.figure(figsize=(W / 100, H / 100), dpi=100)


def px_axes(x0, y0, x1, y1):
    # pixel box (left, top, right, bottom) -> figure fraction axes
    return fig.add_axes([x0 / W, 1 - y1 / H, (x1 - x0) / W, (y1 - y0) / H])


def panel(ax, t, black, red, ylim):
    for y in black:
        ax.plot(t, y, color='black', lw=0.8)
    for y in red:
        ax.plot(t, y, color='red', lw=0.8)
    ax.set_xlim(-0.04, 1.04)
    ax.set_ylim(*ylim)
    ax.set_xticks([0.0, 0.2, 0.4, 0.6, 0.8, 1.0])
    ax.set_xticklabels(['0.0', '0.2', '0.4', '0.6', '0.8', '1.0'])
    yticks = [-2, 0, 2, 4, 6]
    ax.set_yticks(yticks)
    ax.set_yticklabels([str(v).replace('-', '\u2212') for v in yticks])
    ax.tick_params(direction='out', length=5.5, width=0.8, labelsize=9.5,
                   pad=8.5, color='#333333')
    for lab in ax.get_yticklabels():
        lab.set_rotation(90)
        lab.set_verticalalignment('center')
    for s in ax.spines.values():
        s.set_linewidth(0.8)
        s.set_color('#333333')


ax1 = px_axes(71.7, 48.3, 1221, 285)
panel(ax1, t_top, top_black, top_red, (-2.05, 7.81))
ax2 = px_axes(71, 432.3, 596.7, 669.3)
panel(ax2, t_bot, m6_black, m6_red, (-2.85, 6.59))
ax3 = px_axes(696, 432.3, 1220, 669.3)
panel(ax3, t_bot, m7_black, m7_red, (-2.9, 7.45))

# titles and axis labels placed in pixel positions
for (cx, cy), txt in zip([(646, 16), (334, 401), (958, 401)], titles):
    fig.text(cx / W, 1 - cy / H, txt, ha='center', va='center',
             fontsize=11.5, fontweight='bold')
for cx, cy in [(646, 342), (334, 727), (958, 727)]:
    fig.text(cx / W, 1 - cy / H, 't', ha='center', va='center', fontsize=9.5)
for cx, cy in [(17, 166), (17, 551), (642, 551)]:
    fig.text(cx / W, 1 - cy / H, 'X(t)', ha='center', va='center',
             fontsize=9.5, rotation=90)

fig.savefig('out.png', dpi=100)
print("Saved to out.png")
